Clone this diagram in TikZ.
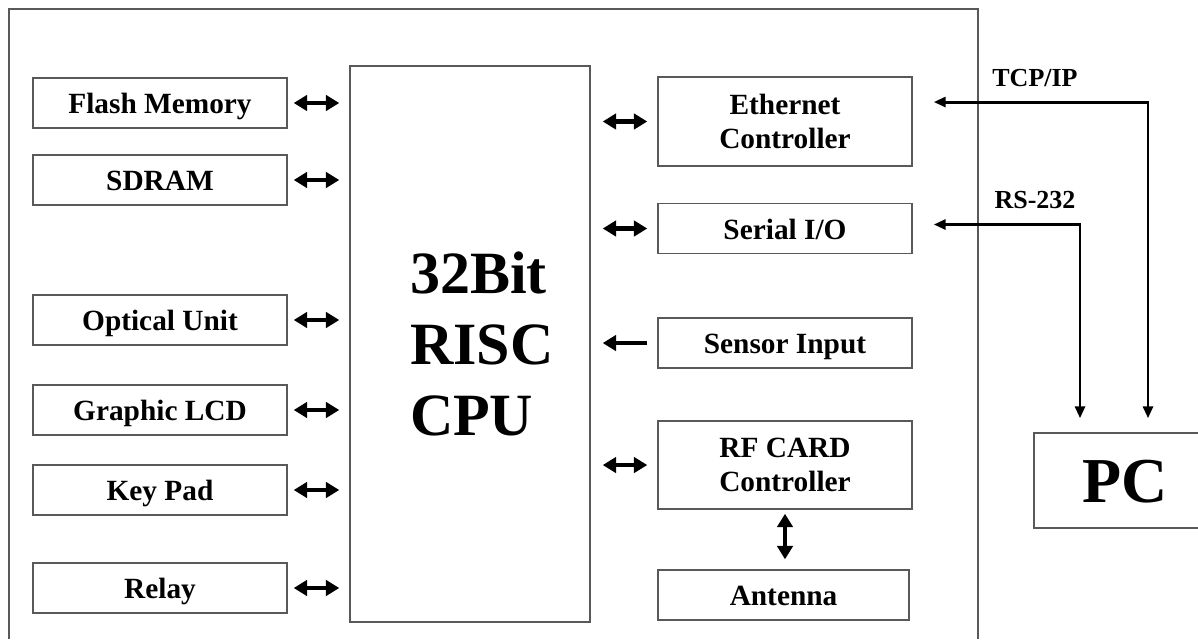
\documentclass[tikz,border=0pt]{standalone}
\usepackage{fontspec}
\setmainfont{Liberation Serif}
\usepackage{tikz}
\usetikzlibrary{arrows.meta}
\tikzstyle{block} = [rectangle, minimum width=190.5pt, minimum height=37.5pt, text centered, align=center, draw=black!65, line width=1.1pt, font=\bfseries\fontsize{22}{25}\selectfont]
\tikzstyle{short} = [block, text height=16pt, text depth=0pt]
\tikzstyle{cpu} = [rectangle, minimum width=180pt, minimum height=417pt, inner xsep=45pt, text width=90pt, align=left, draw=black!65, line width=1.1pt, font=\bfseries\fontsize{45}{53}\selectfont]
\tikzstyle{bus} = [line width=3.6pt, >={Triangle[length=10pt,width=11.5pt]}, <->]
\tikzstyle{link} = [line width=2.2pt, >={Triangle[length=9pt,width=7.5pt]}, <->]
\tikzstyle{tag} = [font=\bfseries\fontsize{19.5}{22}\selectfont]

\begin{document}
\begin{tikzpicture}[x=0.75pt, y=-0.75pt]
		\useasboundingbox (0,0) rectangle (1198,639);
		\draw[draw=black!65, line width=1.1pt] (9,639) -- (9,9) -- (978,9) -- (978,639);
		
		\node (cpu) [cpu] at (470,344) {32Bit\\RISC\\CPU};
		
		\node (flash) [short] at (160,103) {Flash Memory};
		\node (sdram) [short, node distance=57.75pt, below of=flash] {SDRAM};
		\node (optical) [short, node distance=105pt, below of=sdram] {Optical Unit};
		\node (lcd) [short, node distance=67.5pt, below of=optical] {Graphic LCD};
		\node (keypad) [short, node distance=60pt, below of=lcd] {Key Pad};
		\node (relay) [short, node distance=73.5pt, below of=keypad] {Relay};
		
		\node (eth) [block, minimum height=66.75pt] at (785,121.5) {Ethernet\\Controller};
		\node (serial) [short, node distance=80.25pt, below of=eth] {Serial I/O};
		\node (sensor) [short, node distance=85.9pt, below of=serial] {Sensor Input};
		\node (rf) [block, minimum height=66pt, node distance=91.5pt, below of=sensor] {RF CARD\\Controller};
		\node (antenna) [short, minimum width=188pt, node distance=97.5pt, below of=rf, xshift=-1.1pt] {Antenna};
		
		\node (pc) [short, minimum width=136.5pt, minimum height=71.25pt, text height=32.4pt, font=\bfseries\fontsize{48}{52}\selectfont] at (1125,480.5) {PC};
		\node (tcplabel) [tag] at (1035,78) {TCP/IP};
		\node (rslabel) [tag] at (1035,200) {RS-232};
		
		% left side
		\foreach \dev in {flash,sdram,optical,lcd,keypad,relay}
			\draw [bus, shorten <=4.5pt, shorten >=7.5pt] (\dev) -- (\dev -| cpu.west);
		% right side
		\foreach \dev in {eth,serial,rf}
			\draw [bus, shorten <=7.5pt, shorten >=9pt] (\dev) -- (\dev -| cpu.east);
		\draw [bus, ->, shorten <=7.5pt, shorten >=9pt] (sensor) -- (sensor -| cpu.east);
		\draw [bus, shorten <=3pt, shorten >=7.5pt] (rf.south) -- (rf.south |- antenna.north);
		
		\draw [link, shorten <=15.75pt, shorten >=10.5pt] ([yshift=14.6pt]eth.east) -| ([xshift=17.25pt]pc.north);
		\draw [link, shorten <=15.75pt, shorten >=10.5pt] ([yshift=3pt]serial.east) -| ([xshift=-33.75pt]pc.north);
	\end{tikzpicture}
\end{document}
